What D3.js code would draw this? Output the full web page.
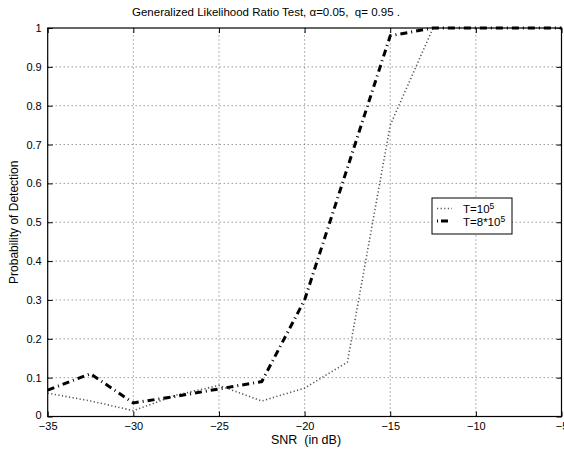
<!DOCTYPE html>
<html lang="en">
<head>
    <meta charset="UTF-8">
    <title>GLRT</title>
    <script src="https://d3js.org/d3.v7.min.js"></script>
    <style>
        body { margin: 0; background: #fff; }
        text { font-family: "Liberation Sans", Arial, Helvetica, sans-serif; white-space: pre; }
    </style>
</head>
<body>
    <svg width="564" height="451"></svg>
    <script>
        // values
        const snr = [-35, -32.5, -30, -27.5, -25, -22.5, -20, -17.5, -15, -12.5, -10, -7.5, -5];
        const pdT1 = [0.06, 0.04, 0.015, 0.055, 0.08, 0.04, 0.073, 0.14, 0.75, 1, 1, 1, 1];
        const pdT8 = [0.068, 0.11, 0.035, 0.052, 0.071, 0.09, 0.30, 0.64, 0.98, 1, 1, 1, 1];
        const xTicks = [-35, -30, -25, -20, -15, -10, -5];
        const yTicks = [0, 0.1, 0.2, 0.3, 0.4, 0.5, 0.6, 0.7, 0.8, 0.9, 1];

        const width = 564, height = 451;
        const margin = {top: 28, right: 2.5, bottom: 34.5, left: 47.7};

        const svg = d3.select("svg");

        const x = d3.scaleLinear()
            .domain([-35, -5])
            .range([margin.left, width - margin.right]);
        const y = d3.scaleLinear()
            .domain([0, 1])
            .range([height - margin.bottom, margin.top]);

        const fmt = d => d < 0 ? "\u2212" + Math.abs(d) : String(d);

        // grid
        const grid = svg.append("g")
            .attr("stroke", "#444")
            .attr("stroke-width", 0.8)
            .attr("stroke-dasharray", "1,3");
        grid.selectAll(".gx")
            .data(xTicks.slice(1, -1))
            .join("line")
            .attr("x1", d => x(d)).attr("x2", d => x(d))
            .attr("y1", y(0)).attr("y2", y(1));
        grid.selectAll(".gy")
            .data(yTicks.slice(1, -1))
            .join("line")
            .attr("x1", x(-35)).attr("x2", x(-5))
            .attr("y1", d => y(d)).attr("y2", d => y(d));

        // axes, ticks pointing inside
        svg.append("g")
            .attr("transform", `translate(0,${y(0)})`)
            .call(d3.axisBottom(x).tickValues(xTicks).tickFormat(fmt)
                .tickSizeInner(-5).tickSizeOuter(0).tickPadding(6))
            .call(g => g.select(".domain").remove())
            .call(g => g.selectAll("text").attr("font-size", 11).attr("fill", "#000"));
        svg.append("g")
            .attr("transform", `translate(0,${y(1)})`)
            .call(d3.axisTop(x).tickValues(xTicks).tickFormat("")
                .tickSizeInner(-5).tickSizeOuter(0))
            .call(g => g.select(".domain").remove());
        svg.append("g")
            .attr("transform", `translate(${x(-35)},0)`)
            .call(d3.axisLeft(y).tickValues(yTicks).tickFormat(d3.format("~g"))
                .tickSizeInner(-5).tickSizeOuter(0).tickPadding(6))
            .call(g => g.select(".domain").remove())
            .call(g => g.selectAll("text").attr("font-size", 11).attr("fill", "#000"))
            .call(g => g.selectAll(".tick").filter(d => d === 0).select("text").attr("dy", "0.2em"));
        svg.append("g")
            .attr("transform", `translate(${x(-5)},0)`)
            .call(d3.axisRight(y).tickValues(yTicks).tickFormat("")
                .tickSizeInner(-5).tickSizeOuter(0))
            .call(g => g.select(".domain").remove());

        // box
        svg.append("rect")
            .attr("x", x(-35)).attr("y", y(1))
            .attr("width", x(-5) - x(-35)).attr("height", y(0) - y(1))
            .attr("fill", "none").attr("stroke", "#000").attr("stroke-width", 1.2);

        // series
        const line = vals => d3.line()
            .x((d, i) => x(snr[i]))
            .y(d => y(d))(vals);

        svg.append("path")
            .attr("d", line(pdT1))
            .attr("fill", "none")
            .attr("stroke", "#555")
            .attr("stroke-width", 1.6)
            .attr("stroke-dasharray", "1.2,2.4");

        svg.append("path")
            .attr("d", line(pdT8))
            .attr("fill", "none")
            .attr("stroke", "#000")
            .attr("stroke-width", 3)
            .attr("stroke-dasharray", "7,4,1,4");

        // legend
        const lg = svg.append("g");
        lg.append("rect")
            .attr("x", 432).attr("y", 198)
            .attr("width", 80).attr("height", 36)
            .attr("fill", "#fff").attr("stroke", "#000").attr("stroke-width", 1);
        lg.append("line")
            .attr("x1", 437).attr("x2", 452).attr("y1", 208.5).attr("y2", 208.5)
            .attr("stroke", "#555").attr("stroke-width", 1.6).attr("stroke-dasharray", "1.2,2.4");
        lg.append("line")
            .attr("x1", 437).attr("x2", 452).attr("y1", 221).attr("y2", 221)
            .attr("stroke", "#000").attr("stroke-width", 3).attr("stroke-dasharray", "1,3,7,4");
        const t1 = lg.append("text").attr("x", 463).attr("y", 212.5).attr("font-size", 11.5);
        t1.append("tspan").text("T=10");
        t1.append("tspan").attr("dy", -4).attr("font-size", 8.5).text("5");
        const t2 = lg.append("text").attr("x", 463).attr("y", 225.5).attr("font-size", 11.5);
        t2.append("tspan").text("T=8*10");
        t2.append("tspan").attr("dy", -4).attr("font-size", 8.5).text("5");

        // titles
        svg.append("text")
            .attr("x", 132).attr("y", 16)
            .attr("font-size", 11.5)
            .text("Generalized Likelihood Ratio Test, \u03b1=0.05,  q= 0.95 .");
        svg.append("text")
            .attr("x", 306).attr("y", 444)
            .attr("text-anchor", "middle")
            .attr("font-size", 12.5)
            .text("SNR  (in dB)");
        svg.append("text")
            .attr("transform", `translate(18,${(y(0) + y(1)) / 2}) rotate(-90)`)
            .attr("text-anchor", "middle")
            .attr("font-size", 12)
            .text("Probability of Detection");
    </script>
</body>
</html>
